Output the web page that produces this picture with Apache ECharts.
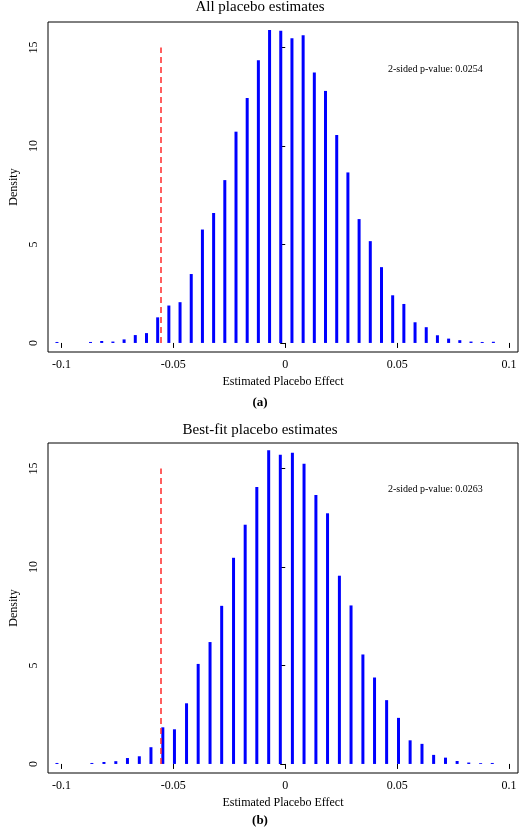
<!DOCTYPE html>
<html>
<head>
<meta charset="utf-8">
<script src="https://cdn.jsdelivr.net/npm/echarts@6/dist/echarts.min.js"></script>
<style>html,body{margin:0;padding:0;background:#fff}#c{width:520px;height:832px}</style>
</head>
<body>
<div id="c"></div>
<script>
// panel (a): all placebo estimates
const xA = [-0.102, -0.087, -0.082, -0.077, -0.072, -0.067, -0.062, -0.057, -0.052, -0.047,
  -0.042, -0.037, -0.032, -0.027, -0.022, -0.017, -0.012, -0.007, -0.002, 0.003,
  0.008, 0.013, 0.018, 0.023, 0.028, 0.033, 0.038, 0.043, 0.048, 0.053,
  0.058, 0.063, 0.068, 0.073, 0.078, 0.083, 0.088, 0.093];
const yA = [0.05, 0.05, 0.1, 0.07, 0.18, 0.4, 0.5, 1.3, 1.9, 2.07,
  3.5, 5.76, 6.6, 8.27, 10.73, 12.44, 14.36, 15.9, 15.86, 15.47,
  15.63, 13.73, 12.8, 10.56, 8.66, 6.29, 5.17, 3.85, 2.42, 1.98,
  1.05, 0.8, 0.39, 0.22, 0.14, 0.07, 0.05, 0.06];
// panel (b): best-fit placebo estimates
const xB = [-0.102, -0.0864, -0.081, -0.0757, -0.0705, -0.0652, -0.060, -0.0547, -0.0495, -0.0441,
  -0.0389, -0.0336, -0.0284, -0.0231, -0.0179, -0.0127, -0.0074, -0.0022, 0.0032, 0.0084,
  0.0137, 0.0189, 0.0242, 0.0294, 0.0347, 0.0399, 0.0453, 0.0506, 0.0558, 0.0611,
  0.0663, 0.0716, 0.0768, 0.082, 0.0873, 0.0925];
const yB = [0.05, 0.05, 0.1, 0.14, 0.3, 0.39, 0.85, 1.86, 1.76, 3.08,
  5.08, 6.19, 8.03, 10.47, 12.15, 14.07, 15.93, 15.7, 15.81, 15.25,
  13.66, 12.73, 9.56, 8.05, 5.56, 4.39, 3.24, 2.34, 1.2, 1.02,
  0.46, 0.32, 0.15, 0.07, 0.04, 0.05];
const actualA = -0.0556, actualB = -0.0558;
const titles = ['All placebo estimates', 'Best-fit placebo estimates'];
const pvals = ['2-sided p-value: 0.0254', '2-sided p-value: 0.0263'];
const xTicks = [-0.1, -0.05, 0, 0.05, 0.1];

const font = 'Liberation Serif';
const tops = [22, 443];

function xAxis(i) {
  return {
    type: 'value', gridIndex: i, min: -0.106, max: 0.104,
    interval: 0.05, name: 'Estimated Placebo Effect', nameLocation: 'middle', nameGap: 24,
    nameTextStyle: { fontFamily: font, fontSize: 12, color: '#000' },
    axisLine: { show: false }, splitLine: { show: false },
    axisTick: { show: true, length: 5, lineStyle: { color: '#000' }, customValues: xTicks },
    axisLabel: { fontFamily: font, fontSize: 12, color: '#000', margin: 7,
      customValues: xTicks, formatter: v => (v === 0 ? '0' : String(+v.toFixed(2))) }
  };
}
function yAxis(i) {
  return {
    type: 'value', gridIndex: i, min: -0.46, max: 16.3,
    name: 'Density', nameLocation: 'middle', nameGap: 28,
    nameTextStyle: { fontFamily: font, fontSize: 12, color: '#000' },
    axisLine: { show: false }, splitLine: { show: false },
    axisTick: { show: true, length: 5, lineStyle: { color: '#000' }, customValues: [0, 5, 10, 15] },
    axisLabel: { fontFamily: font, fontSize: 12, color: '#000', rotate: 90, margin: 8,
      customValues: [0, 5, 10, 15] }
  };
}
function bars(i, xs, ys, actual) {
  return {
    type: 'bar', xAxisIndex: i, yAxisIndex: i, barWidth: 3,
    itemStyle: { color: '#0000ff' },
    data: xs.map((x, k) => [x, ys[k]]),
    markLine: {
      symbol: 'none', silent: true, label: { show: false },
      lineStyle: { color: '#ff2a2a', type: [6, 4], width: 1.5 },
      data: [[{ coord: [actual, 0] }, { coord: [actual, 15] }]]
    }
  };
}

const chart = echarts.init(document.getElementById('c'));
chart.setOption({
  animation: false,
  grid: tops.map(t => ({ left: 38, right: 2, top: t, height: 330, show: true,
    borderColor: '#000', borderWidth: 1, backgroundColor: 'transparent' })),
  xAxis: [xAxis(0), xAxis(1)],
  yAxis: [yAxis(0), yAxis(1)],
  series: [bars(0, xA, yA, actualA), bars(1, xB, yB, actualB)],
  graphic: [
    { type: 'text', left: 'center', top: 0, style: { text: titles[0], font: '15px ' + font, fill: '#000' } },
    { type: 'text', left: 'center', top: 423, style: { text: titles[1], font: '15px ' + font, fill: '#000' } },
    { type: 'text', x: 388, y: 64, style: { text: pvals[0], font: '10px ' + font, fill: '#000' } },
    { type: 'text', x: 388, y: 484, style: { text: pvals[1], font: '10px ' + font, fill: '#000' } },
    { type: 'text', left: 'center', top: 396, style: { text: '(a)', font: 'bold 13px ' + font, fill: '#000' } },
    { type: 'text', left: 'center', top: 814, style: { text: '(b)', font: 'bold 13px ' + font, fill: '#000' } }
  ]
});
</script>
</body>
</html>
